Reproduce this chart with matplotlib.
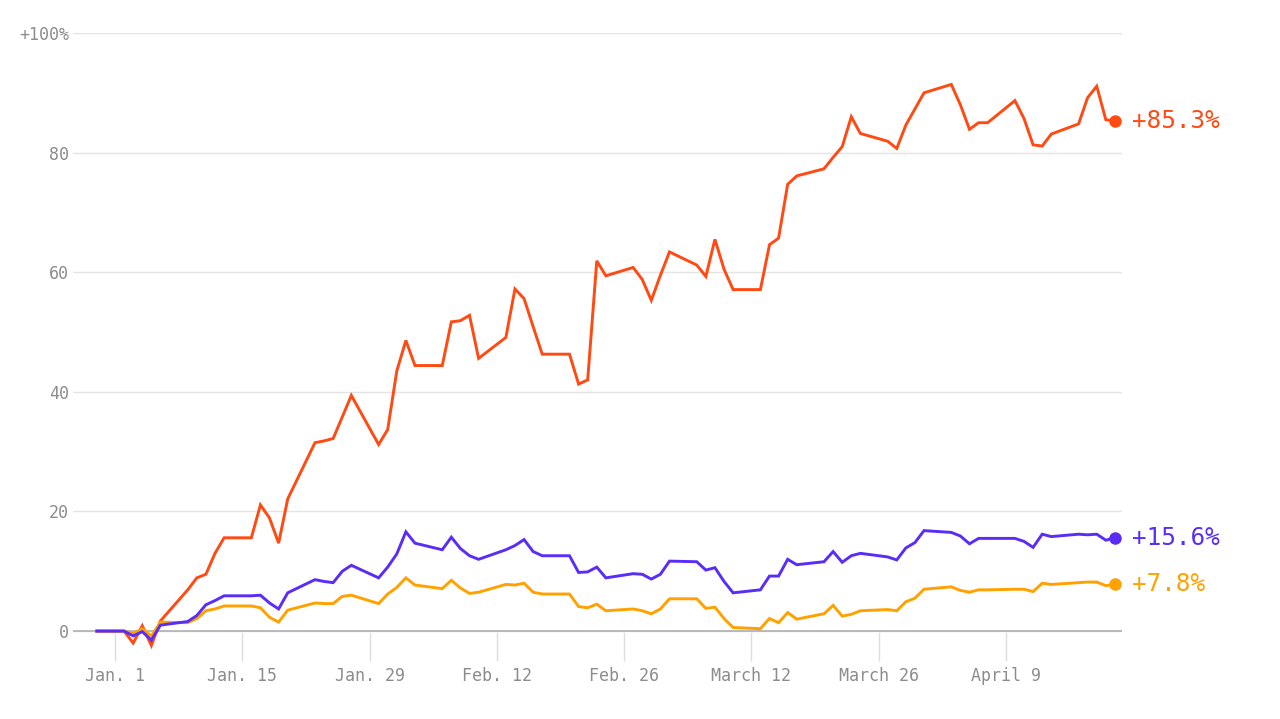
import matplotlib
matplotlib.use("Agg")
import matplotlib.pyplot as plt
import pandas as pd

# weekdays from the last close of 2022 to April 21, 2023 (holidays carry the previous value)
dates = pd.bdate_range("2022-12-30", "2023-04-21")

# year-to-date change, percent
nvidia = [0, 0, -2.0, 0.9, -2.4, 1.7,
          6.9, 8.9, 9.5, 13.0, 15.6,
          15.6, 21.1, 18.9, 14.7, 22.1,
          31.5, 31.8, 32.2, 35.8, 39.4,
          31.2, 33.7, 43.5, 48.6, 44.4,
          44.4, 51.7, 51.9, 52.8, 45.6,
          49.1, 57.2, 55.6, 50.9, 46.3,
          46.3, 41.3, 42.0, 61.9, 59.4,
          60.8, 58.8, 55.3, 59.5, 63.4,
          61.2, 59.3, 65.5, 60.5, 57.1,
          57.1, 64.6, 65.7, 74.7, 76.1,
          77.3, 79.2, 81.0, 86.0, 83.2,
          81.9, 80.7, 84.6, 87.3, 90.0,
          91.4, 88.0, 83.9, 85.0, 85.0,
          88.7, 85.7, 81.3, 81.1, 83.1,
          84.8, 89.2, 91.1, 85.5, 85.3]

nasdaq = [0, 0, -0.8, -0.1, -1.5, 1.0,
          1.6, 2.6, 4.4, 5.1, 5.9,
          5.9, 6.0, 4.7, 3.7, 6.4,
          8.6, 8.3, 8.1, 10.0, 11.0,
          8.9, 10.7, 12.9, 16.6, 14.7,
          13.6, 15.7, 13.8, 12.6, 12.0,
          13.6, 14.3, 15.3, 13.3, 12.6,
          12.6, 9.8, 9.9, 10.7, 8.9,
          9.6, 9.5, 8.7, 9.5, 11.7,
          11.6, 10.2, 10.6, 8.3, 6.4,
          6.9, 9.2, 9.2, 12.0, 11.1,
          11.6, 13.3, 11.5, 12.6, 13.0,
          12.4, 11.9, 13.9, 14.8, 16.8,
          16.5, 15.9, 14.6, 15.5, 15.5,
          15.5, 15.0, 14.0, 16.2, 15.8,
          16.2, 16.1, 16.2, 15.2, 15.6]

sp500 = [0, 0, -0.4, 0.4, -0.8, 1.5,
         1.4, 2.1, 3.4, 3.7, 4.2,
         4.2, 3.9, 2.3, 1.5, 3.5,
         4.7, 4.6, 4.6, 5.8, 6.0,
         4.6, 6.2, 7.3, 8.9, 7.7,
         7.1, 8.5, 7.2, 6.3, 6.5,
         7.8, 7.7, 8.0, 6.5, 6.2,
         6.2, 4.1, 3.9, 4.5, 3.4,
         3.7, 3.4, 2.9, 3.7, 5.4,
         5.4, 3.8, 4.0, 2.1, 0.6,
         0.4, 2.1, 1.4, 3.1, 2.0,
         2.9, 4.3, 2.5, 2.8, 3.4,
         3.6, 3.4, 4.9, 5.5, 7.0,
         7.4, 6.8, 6.5, 6.9, 6.9,
         7.0, 7.0, 6.6, 8.0, 7.8,
         8.1, 8.2, 8.2, 7.6, 7.8]

tick_dates = pd.to_datetime(["2023-01-01", "2023-01-15", "2023-01-29", "2023-02-12",
                             "2023-02-26", "2023-03-12", "2023-03-26", "2023-04-09"])
tick_labels = ["Jan. 1", "Jan. 15", "Jan. 29", "Feb. 12",
               "Feb. 26", "March 12", "March 26", "April 9"]
y_ticks = [0, 20, 40, 60, 80, 100]
y_labels = ["0", "20", "40", "60", "80", "+100%"]

RED = "#ff4a14"
BLUE = "#5a2cf7"
ORANGE = "#ffa200"
GREY = "#8c8c8c"

plt.rcParams["font.family"] = ["DejaVu Sans Mono", "DejaVu Sans"]

fig = plt.figure(figsize=(12.8, 7.19), dpi=100)
ax = fig.add_axes([73 / 1280, 58 / 719, 1049 / 1280, 628 / 719])

series = [(nvidia, RED, 2), (sp500, ORANGE, 3), (nasdaq, BLUE, 4)]
for vals, col, z in series:
    ax.plot(dates, vals, color=col, lw=2.1, zorder=z, solid_joinstyle="miter")
    ax.plot(dates[-1], vals[-1], "o", color=col, ms=8, zorder=z + 3)
    ax.annotate("%+.1f%%" % vals[-1], (dates[-1], vals[-1]), xytext=(12, 0),
                textcoords="offset points", va="center", ha="left",
                fontsize=17.5, color=col, annotation_clip=False)

jan1 = pd.Timestamp("2023-01-01")
ax.set_xlim(jan1 - pd.Timedelta(days=4.62), jan1 + pd.Timedelta(days=110.78))
ax.set_ylim(-5, 100)

ax.set_yticks(y_ticks)
ax.set_yticklabels(y_labels)
ax.set_xticks(tick_dates)
ax.set_xticklabels(tick_labels)

ax.yaxis.grid(True, color="#e4e4e4", lw=1)
ax.axhline(0, color="#b0b0b0", lw=1.2, zorder=1)
ax.set_axisbelow(True)

for s in ax.spines.values():
    s.set_visible(False)
ax.tick_params(axis="y", length=0, pad=3, labelsize=12, labelcolor=GREY)
ax.tick_params(axis="x", direction="in", length=21, width=1, color="#dedede",
               pad=4, labelsize=12, labelcolor=GREY)

fig.savefig("out.png", dpi=100, facecolor="white")
